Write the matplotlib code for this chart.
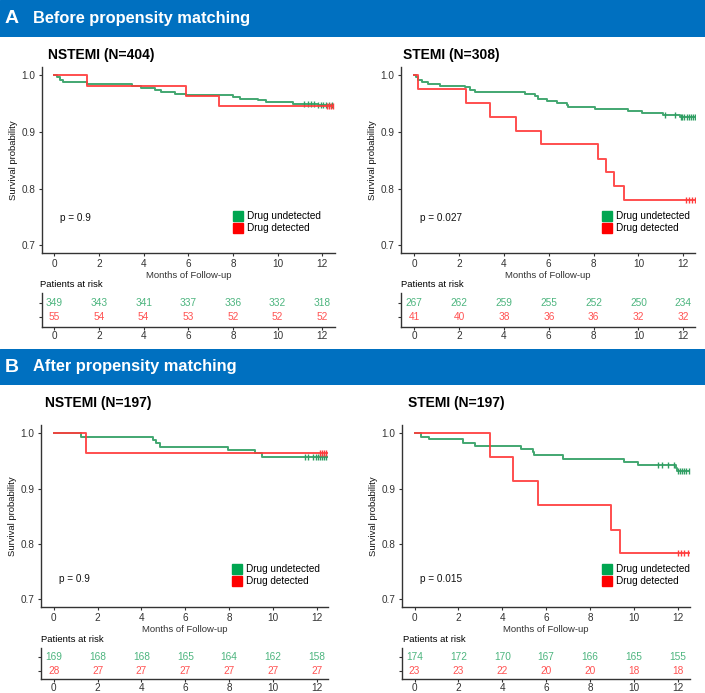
import numpy as np
import matplotlib
matplotlib.use("Agg")
import matplotlib.pyplot as plt
from matplotlib.lines import Line2D

plt.rcParams['font.family'] = ['Liberation Sans', 'DejaVu Sans']

W, H = 705, 693
BLUE = '#0070C0'
GREEN = '#2E9E62'
RED = '#FF3B3B'
GREEN_TXT = '#4DB57F'
RED_TXT = '#FF5252'

months = [0, 2, 4, 6, 8, 10, 12]

# ---- A: before matching, NSTEMI
a_ns_g_t = [0.1, 0.25, 0.4, 1.45, 3.5, 3.9, 4.5, 4.8, 5.4, 5.9, 8.0, 8.3, 9.1, 9.5, 10.7, 11.8]
a_ns_g_s = [0.997, 0.992, 0.989, 0.985, 0.982, 0.978, 0.974, 0.970, 0.967, 0.965, 0.962, 0.958, 0.956, 0.953, 0.950, 0.948]
a_ns_g_c = [11.2, 11.35, 11.5, 11.65, 11.8, 11.95, 12.05, 12.15, 12.3, 12.45]
a_ns_r_t = [1.45, 5.92, 7.37]
a_ns_r_s = [0.982, 0.964, 0.946]
a_ns_r_c = [12.2, 12.3, 12.4, 12.5]
a_ns_risk_g = [349, 343, 341, 337, 336, 332, 318]
a_ns_risk_r = [55, 54, 54, 53, 52, 52, 52]

# ---- A: before matching, STEMI
a_st_g_t = [0.1, 0.18, 0.33, 0.62, 1.15, 2.26, 2.48, 2.71, 4.94, 5.38, 5.53, 5.9, 6.35, 6.8, 6.87,
            8.06, 9.55, 10.14, 11.11, 11.85]
a_st_g_s = [0.997, 0.992, 0.988, 0.985, 0.982, 0.979, 0.975, 0.970, 0.967, 0.963, 0.959, 0.955, 0.952,
            0.948, 0.944, 0.941, 0.937, 0.934, 0.930, 0.926]
a_st_g_c = [11.18, 11.63, 11.9, 11.95, 12.05, 12.15, 12.25, 12.35, 12.45, 12.5]
a_st_r_t = [0.15, 2.33, 3.38, 4.54, 5.64, 8.21, 8.54, 8.92, 9.37]
a_st_r_s = [0.976, 0.951, 0.927, 0.902, 0.878, 0.853, 0.829, 0.805, 0.780]
a_st_r_c = [12.1, 12.25, 12.4, 12.5]
a_st_risk_g = [267, 262, 259, 255, 252, 250, 234]
a_st_risk_r = [41, 40, 38, 36, 36, 32, 32]

# ---- B: after matching, NSTEMI
b_ns_g_t = [1.22, 4.53, 4.65, 4.83, 7.96, 9.2, 9.5]
b_ns_g_s = [0.994, 0.988, 0.982, 0.976, 0.970, 0.964, 0.958]
b_ns_g_c = [11.45, 11.6, 11.85, 11.95, 12.05, 12.15, 12.25, 12.35, 12.45]
b_ns_r_t = [1.45]
b_ns_r_s = [0.964]
b_ns_r_c = [12.15, 12.25, 12.35, 12.45]
b_ns_risk_g = [169, 168, 168, 165, 164, 162, 158]
b_ns_risk_r = [28, 27, 27, 27, 27, 27, 27]

# ---- B: after matching, STEMI
b_st_g_t = [0.3, 0.64, 2.23, 2.74, 4.85, 5.4, 5.46, 6.75, 9.57, 10.2, 11.9, 11.95]
b_st_g_s = [0.994, 0.989, 0.983, 0.977, 0.971, 0.966, 0.960, 0.954, 0.948, 0.942, 0.937, 0.931]
b_st_g_c = [11.1, 11.3, 11.55, 11.85, 12.0, 12.1, 12.2, 12.3, 12.4, 12.5]
b_st_r_t = [3.42, 4.51, 5.62, 8.97, 9.38]
b_st_r_s = [0.957, 0.913, 0.870, 0.826, 0.783]
b_st_r_c = [12.0, 12.15, 12.3, 12.45]
b_st_risk_g = [174, 172, 170, 167, 166, 165, 155]
b_st_risk_r = [23, 23, 22, 20, 20, 18, 18]

fig = plt.figure(figsize=(W / 100, H / 100), dpi=100)


def px_axes(l, t, r, b):
    return fig.add_axes([l / W, 1 - b / H, (r - l) / W, (b - t) / H])


def header(y0, y1, letter, text):
    ax = fig.add_axes([0, 1 - y1 / H, 1, (y1 - y0) / H])
    ax.set_xlim(0, W)
    ax.set_ylim(0, 1)
    ax.axis('off')
    ax.add_patch(plt.Rectangle((0, 0), W, 1, color=BLUE))
    ax.text(5, 0.5, letter, color='white', fontsize=14, fontweight='bold', va='center')
    ax.text(33, 0.5, text, color='white', fontsize=11.8, fontweight='bold', va='center')


def style(ax, length=2.5, pad=2):
    for s in ['top', 'right']:
        ax.spines[s].set_visible(False)
    for s in ['left', 'bottom']:
        ax.spines[s].set_color('#333333')
        ax.spines[s].set_linewidth(1.0)
    ax.tick_params(colors='#333333', labelsize=7.2, length=length, width=0.8, pad=pad)


def km_curve(ax, t, s, c, color):
    tt = [0] + t + [12.5]
    ss = [1.0] + s + [s[-1]]
    ax.step(tt, ss, where='post', color=color, lw=1.4, alpha=0.9)
    idx = np.searchsorted(tt, c, side='right') - 1
    ax.plot(c, np.array(ss)[idx], ls='none', marker='|', ms=4, mew=1.0, color=color)


def km_panel(rect, xlim, title, title_xy, g, r, pval, leg_xy):
    ax = px_axes(*rect)
    km_curve(ax, *g, GREEN)
    km_curve(ax, *r, RED)
    ax.set_xlim(*xlim)
    ax.set_ylim(0.686, 1.015)
    ax.set_xticks(months)
    ax.set_yticks([0.7, 0.8, 0.9, 1.0])
    ax.set_yticklabels(['0.7', '0.8', '0.9', '1.0'])
    style(ax)
    ax.set_xlabel('Months of Follow-up', fontsize=6.8, color='#333333', labelpad=1)
    ax.set_ylabel('Survival probability', fontsize=6.8, color='#111111', labelpad=3)
    ax.text(0.25, pval[1], pval[0], fontsize=7.2, color='#111111', va='center')
    fig.text(title_xy[0] / W, 1 - title_xy[1] / H, title, fontsize=10, fontweight='bold', va='center')
    handles = [Line2D([], [], ls='none', marker='s', ms=7.5, color='#00A651'),
               Line2D([], [], ls='none', marker='s', ms=7.5, color='#FF0000')]
    ax.legend(handles, ['Drug undetected', 'Drug detected'], loc='upper left',
              bbox_to_anchor=(leg_xy[0] / W, 1 - leg_xy[1] / H), bbox_transform=fig.transFigure,
              frameon=False, fontsize=7.2, borderpad=0, handlelength=1.0, handletextpad=0.45,
              labelspacing=0.2, borderaxespad=0)
    return ax


def risk_panel(rect, xlim, ylim, label_xy, g, r):
    ax = px_axes(*rect)
    for x, n in zip(months, g):
        ax.text(x, 1, str(n), color=GREEN_TXT, fontsize=7.3, ha='center', va='center')
    for x, n in zip(months, r):
        ax.text(x, 0, str(n), color=RED_TXT, fontsize=7.3, ha='center', va='center')
    ax.set_xlim(*xlim)
    ax.set_ylim(*ylim)
    ax.set_xticks(months)
    ax.set_yticks([0, 1])
    ax.set_yticklabels([])
    style(ax, length=2, pad=1)
    fig.text(label_xy[0] / W, 1 - label_xy[1] / H, 'Patients at risk', fontsize=6.8, va='center')


header(0, 37, 'A', 'Before propensity matching')
header(349, 385, 'B', 'After propensity matching')

km_panel((42, 67, 335, 253), (-0.55, 12.57), 'NSTEMI (N=404)', (48, 55),
         (a_ns_g_t, a_ns_g_s, a_ns_g_c), (a_ns_r_t, a_ns_r_s, a_ns_r_c), ('p = 0.9', 0.748), (233, 211))
km_panel((401, 67, 695, 253), (-0.59, 12.52), 'STEMI (N=308)', (403, 55),
         (a_st_g_t, a_st_g_s, a_st_g_c), (a_st_r_t, a_st_r_s, a_st_r_c), ('p = 0.027', 0.748), (602, 211))
km_panel((41, 425, 328, 607), (-0.59, 12.52), 'NSTEMI (N=197)', (45, 403),
         (b_ns_g_t, b_ns_g_s, b_ns_g_c), (b_ns_r_t, b_ns_r_s, b_ns_r_c), ('p = 0.9', 0.737), (232, 564))
km_panel((402, 425, 690, 607), (-0.57, 12.56), 'STEMI (N=197)', (408, 403),
         (b_st_g_t, b_st_g_s, b_st_g_c), (b_st_r_t, b_st_r_s, b_st_r_c), ('p = 0.015', 0.737), (602, 564))

risk_panel((42, 293, 335, 327), (-0.55, 12.57), (-0.66, 1.66), (40, 285), a_ns_risk_g, a_ns_risk_r)
risk_panel((401, 293, 695, 327), (-0.59, 12.52), (-0.66, 1.66), (401, 285), a_st_risk_g, a_st_risk_r)
risk_panel((41, 648, 328, 679), (-0.59, 12.52), (-0.62, 1.66), (41, 640), b_ns_risk_g, b_ns_risk_r)
risk_panel((402, 648, 690, 679), (-0.57, 12.56), (-0.62, 1.66), (403, 640), b_st_risk_g, b_st_risk_r)

fig.savefig('out.png', dpi=100)
